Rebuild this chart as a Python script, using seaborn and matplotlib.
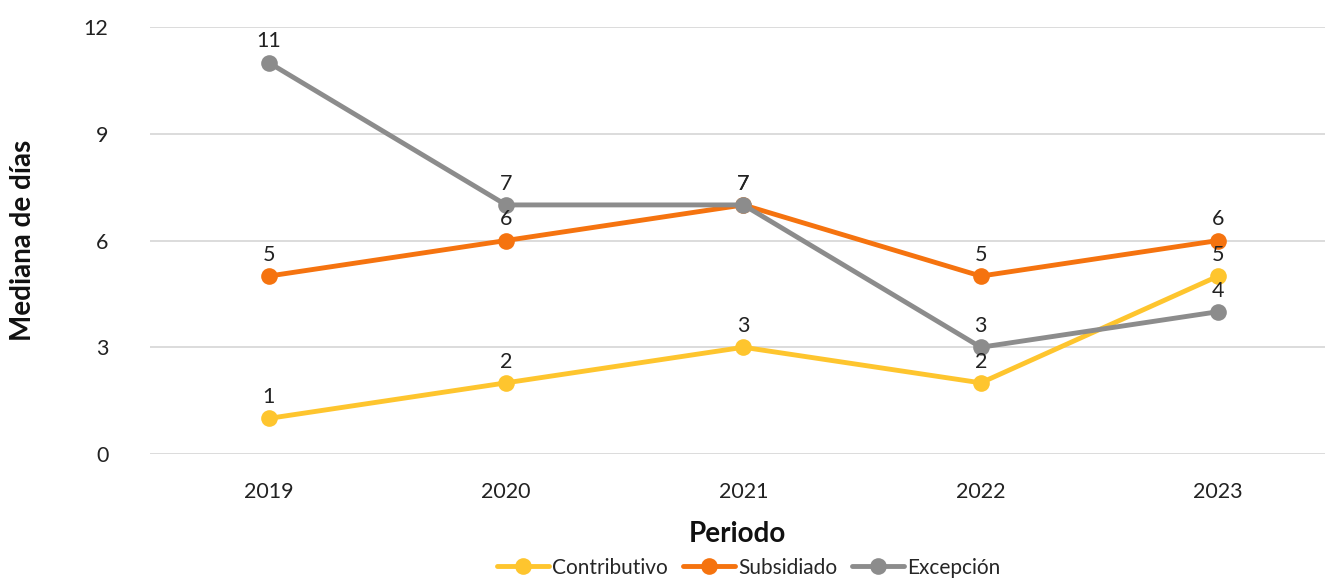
import matplotlib
matplotlib.use("Agg")
import matplotlib.pyplot as plt
import seaborn as sns
import pandas as pd

years = ["2019", "2020", "2021", "2022", "2023"]
contributivo = [1, 2, 3, 2, 5]
subsidiado = [5, 6, 7, 5, 6]
excepcion = [11, 7, 7, 3, 4]
series_names = ["Contributivo", "Subsidiado", "Excepción"]
colors = ["#FEC52E", "#F5730F", "#8C8C8C"]

sns.set_theme(style="white")
plt.rcParams["font.family"] = ["Lato", "DejaVu Sans"]

df = pd.DataFrame({
    "Periodo": years * 3,
    "valor": contributivo + subsidiado + excepcion,
    "serie": [s for s in series_names for _ in years],
})

fig = plt.figure(figsize=(13.25, 5.78), dpi=100)
ax = fig.add_axes([0.1132, 0.2145, 0.8868, 0.7388])

sns.lineplot(data=df, x="Periodo", y="valor", hue="serie", palette=colors,
             hue_order=series_names, marker="o", markersize=12, linewidth=3.5,
             markeredgewidth=0, sort=False, ax=ax)

for vals in (contributivo, subsidiado, excepcion):
    for i, v in enumerate(vals):
        ax.annotate(str(v), (i, v), xytext=(0, 8), textcoords="offset points",
                    ha="center", va="bottom", fontsize=15.5, color="#222222")

ax.set_ylim(0, 12)
ax.set_xlim(-0.5, 4.45)
ax.set_yticks([0, 3, 6, 9, 12])
ax.yaxis.grid(True, color="#D9D9D9", linewidth=1.3)
ax.set_axisbelow(True)
for s in ax.spines.values():
    s.set_visible(False)
ax.tick_params(axis="both", length=0, labelsize=15.5, colors="#222222")
ax.tick_params(axis="y", pad=30)
ax.tick_params(axis="x", pad=20)

ax.set_xlabel("Periodo", fontsize=20, fontweight="bold", color="#111111", labelpad=14)
ax.set_ylabel("Mediana de días", fontsize=20, fontweight="bold", color="#111111")
ax.yaxis.set_label_coords(-0.097, 0.5)

handles, labels = ax.get_legend_handles_labels()
ax.get_legend().remove()
fig.legend(handles, labels, loc="center", bbox_to_anchor=(0.565, 0.018),
           ncol=3, frameon=False, fontsize=15, handlelength=2.5, columnspacing=0.7,
           handletextpad=0.15, borderaxespad=0)

fig.savefig("out.png", dpi=100)
